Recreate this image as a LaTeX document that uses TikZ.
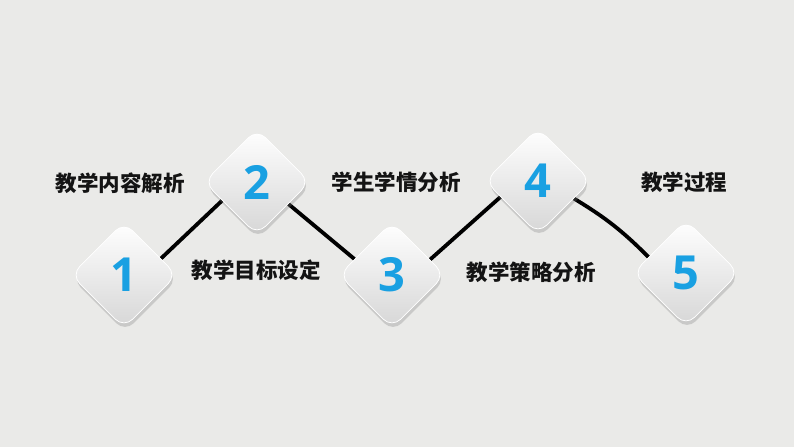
\documentclass[tikz,border=0pt]{standalone}
\usepackage{fontspec}
\newfontfamily\cjk{Noto Sans CJK SC}
\newfontfamily\numfont{Open Sans}
\usetikzlibrary{shapes.geometric,shadows,backgrounds}
\definecolor{paper}{RGB}{234,234,232}
\definecolor{numblue}{RGB}{25,160,226}
\definecolor{ink}{RGB}{20,20,20}

\begin{document}
\begin{tikzpicture}[x=1pt,y=-1pt]
\tikzstyle{v}=[diamond,aspect=1,minimum size=106pt,inner sep=0pt,rounded corners=12pt,draw=white,line width=0.8pt,top color=white,bottom color=gray!32,drop shadow={shadow xshift=1pt,shadow yshift=-4pt,opacity=0.3},text=numblue,font=\numfont\bfseries\fontsize{47}{47}\selectfont]
\tikzstyle{lab}=[font=\cjk\bfseries\fontsize{21.5}{21.5}\selectfont,text=ink,inner sep=0pt]
\tikzstyle{link}=[line width=3.8pt,black]
\useasboundingbox (0,0) rectangle (794,447);
% steps
\node[v] (d1) at (124,275) {1};
\node[v] (d2) at (257,182) {2};
\node[v] (d3) at (392,275) {3};
\node[v] (d4) at (538,181) {4};
\node[v] (d5) at (686,273) {5};
% titles
\node[lab] (t1) at (120,183) {教学内容解析};
\node[lab] (t2) at (256,270) {教学目标设定};
\node[lab] (t3) at (396,182) {学生学情分析};
\node[lab] (t4) at (531,272) {教学策略分析};
\node[lab] (t5) at (684,182) {教学过程};
\begin{scope}[on background layer]
\fill[paper] (0,0) rectangle (794,447);
\draw[link] (d1.24) -- (d2.208);
\draw[link] (d2.325) -- (d3.157);
\draw[link] (d3.22) -- (d4.203);
\draw[link] (d4.334) to[bend left=7] (d5.157);
\end{scope}
\end{tikzpicture}
\end{document}
